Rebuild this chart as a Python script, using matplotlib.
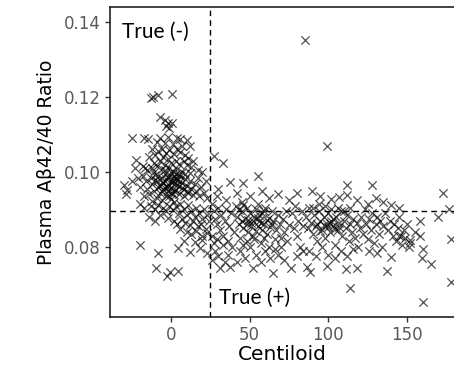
import matplotlib
matplotlib.use("Agg")
import matplotlib.pyplot as plt

# amyloid negative side (centiloid below cutoff)
neg_points = [
    (-13, 0.1197), (-11.5, 0.1199), (-8, 0.1204), (0.5, 0.1208), (-7, 0.1146), (-4, 0.1137),
    (-2, 0.1130), (0.5, 0.1130), (-3, 0.1122), (-1, 0.1118),
    (-25, 0.1090), (-17.5, 0.1090), (-14.5, 0.1088), (-7, 0.1090), (-2, 0.1092), (3.5, 0.1090),
    (6, 0.1088), (10, 0.1086), (-9, 0.1080), (-4, 0.1078), (1, 0.1075), (7, 0.1070), (12, 0.1068),
    (-22, 0.1032), (-23, 0.1010), (-16.6, 0.1010), (-12, 0.1060), (-10, 0.1045), (-8, 0.1055),
    (-6, 0.1062), (-3, 0.1050), (-1, 0.1058), (2, 0.1048), (4, 0.1060), (6, 0.1052), (9, 0.1045),
    (11, 0.1038), (14, 0.1030), (-14, 0.1040), (-11, 0.1025), (-7, 0.1030), (-5, 0.1040),
    (-2, 0.1035), (0, 0.1025), (3, 0.1030), (5, 0.1020), (8, 0.1028), (10, 0.1018), (13, 0.1012),
    (17, 0.1005), (20, 0.1000), (-18, 0.1015), (-15, 0.1005), (-12, 0.1010), (-9, 0.1015),
    (-6, 0.1008), (-4, 0.1018), (-1, 0.1010), (1, 0.1002), (4, 0.1008), (7, 0.1000), (12, 0.0998),
    (-30, 0.0965), (-28, 0.0952), (-28.7, 0.0942), (-21, 0.0983), (-25, 0.0975), (-20, 0.0960),
    (-18, 0.0990), (-16, 0.0975), (-15, 0.0955), (-13, 0.0985), (-12, 0.0968), (-11, 0.0950),
    (-10, 0.0992), (-9, 0.0975), (-8, 0.0960), (-7, 0.0945), (-6, 0.0985), (-5, 0.0970),
    (-5, 0.0955), (-4, 0.0995), (-3, 0.0980), (-3, 0.0962), (-2, 0.0948), (-1, 0.0990),
    (0, 0.0972), (0, 0.0958), (1, 0.0985), (1, 0.0940), (2, 0.0968), (3, 0.0995), (3, 0.0952),
    (4, 0.0978), (5, 0.0962), (5, 0.0942), (6, 0.0988), (7, 0.0970), (8, 0.0955), (8, 0.0935),
    (9, 0.0980), (10, 0.0962), (11, 0.0945), (12, 0.0975), (13, 0.0955), (14, 0.0938),
    (15, 0.0968), (16, 0.0950), (17, 0.0985), (18, 0.0935), (19, 0.0960), (21, 0.0945),
    (22, 0.0975), (23, 0.0930), (-14, 0.0940), (-17, 0.0935), (-9, 0.0930), (-6, 0.0925),
    (-3, 0.0935), (0, 0.0928), (2, 0.0920), (-12, 0.0922),
    (-8, 0.0990), (-6, 0.0972), (-4, 0.0958), (-2, 0.0985), (-1, 0.0965), (1, 0.0975),
    (2, 0.0990), (2, 0.0950), (4, 0.0965), (6, 0.0975), (-7, 0.0962), (-10, 0.0978),
    (-4, 0.1005), (0, 0.1000), (3, 0.0982), (-2, 0.0960), (5, 0.0995), (9, 0.0995),
    (-11, 0.1000), (-6, 0.0950), (0, 0.0945), (7, 0.0958), (10, 0.0948), (-1, 0.0935),
    (-20, 0.0915), (-17, 0.0905), (-13, 0.0910), (-10, 0.0900), (-8, 0.0912), (-5, 0.0905),
    (-3, 0.0895), (-1, 0.0910), (1, 0.0898), (3, 0.0908), (5, 0.0890), (6, 0.0915), (8, 0.0900),
    (10, 0.0885), (11, 0.0912), (13, 0.0895), (15, 0.0880), (16, 0.0905), (18, 0.0890),
    (20, 0.0875), (21, 0.0900), (23, 0.0885), (-7, 0.0885), (-2, 0.0878), (2, 0.0870),
    (4, 0.0862), (7, 0.0875), (9, 0.0865), (12, 0.0858), (14, 0.0868), (17, 0.0855), (19, 0.0862),
    (22, 0.0848), (24, 0.0870), (6, 0.0848), (10, 0.0840), (13, 0.0835), (16, 0.0842),
    (20, 0.0830), (23, 0.0838), (-10, 0.0870), (-14, 0.0880),
    (-20, 0.0805), (-8, 0.0783), (-9.7, 0.0743), (-2.7, 0.0723), (-0.6, 0.0734), (4.7, 0.0736),
    (4.7, 0.0797), (12, 0.0788), (18.5, 0.0797), (22.7, 0.0783), (8, 0.0815), (15, 0.0812),
    (20, 0.0818),
]

# amyloid positive side (centiloid above cutoff)
pos_points = [
    (27, 0.1041), (33, 0.1023), (37.6, 0.0974), (46, 0.0971), (55.6, 0.0989), (85, 0.1350),
    (99, 0.1069), (89.6, 0.0950), (112, 0.0966), (128, 0.0965), (112, 0.0939), (106.6, 0.0934),
    (130, 0.0930), (173, 0.0945), (176.6, 0.0900),
    (30, 0.0955), (42, 0.0945), (50, 0.0935), (58, 0.0948), (62, 0.0930), (68, 0.0940),
    (75, 0.0925), (80, 0.0945), (95, 0.0935), (102, 0.0928), (118, 0.0925), (125, 0.0915),
    (135, 0.0920), (140, 0.0912), (145, 0.0905), (29, 0.0935), (35, 0.0925), (45, 0.0920),
    (55, 0.0915),
    (26, 0.0915), (27, 0.0895), (28, 0.0875), (29, 0.0860), (30, 0.0905), (31, 0.0845),
    (32, 0.0885), (33, 0.0830), (34, 0.0870), (35, 0.0900), (36, 0.0815), (37, 0.0855),
    (38, 0.0890), (39, 0.0800), (40, 0.0840), (26, 0.0830), (27, 0.0810), (28, 0.0790),
    (30, 0.0775), (31, 0.0743), (34, 0.0760), (37.6, 0.0748), (26, 0.0765), (29, 0.0820),
    (33, 0.0805), (36, 0.0780),
    (41, 0.0910), (42, 0.0880), (43, 0.0860), (44, 0.0825), (45, 0.0895), (46, 0.0850),
    (47, 0.0875), (48, 0.0905), (48, 0.0815), (49, 0.0840), (50, 0.0890), (51, 0.0865),
    (52, 0.0745), (52, 0.0830), (53, 0.0880), (54, 0.0900), (55, 0.0855), (56, 0.0870),
    (57, 0.0810), (58, 0.0890), (58, 0.0845), (59, 0.0862), (60, 0.0905), (61, 0.0835),
    (62, 0.0878), (63, 0.0852), (64, 0.0895), (65, 0.0730), (65, 0.0868), (66, 0.0820),
    (67, 0.0845), (68, 0.0885), (69, 0.0860), (70, 0.0800), (71, 0.0875), (72, 0.0840),
    (73, 0.0895), (74, 0.0815), (75, 0.0858), (44, 0.0790), (47, 0.0770), (50, 0.0800),
    (54, 0.0780), (57, 0.0760), (60, 0.0790), (63, 0.0770), (68, 0.0780), (72, 0.0765),
    (76, 0.0743), (42, 0.0760), (46, 0.0805), (53, 0.0820), (59, 0.0825), (62, 0.0800),
    (66, 0.0795), (70, 0.0825),
    (49, 0.0872), (52, 0.0868), (55, 0.0878), (57, 0.0865), (61, 0.0872), (64, 0.0862),
    (45, 0.0868), (48, 0.0860), (51, 0.0855), (54, 0.0842), (56, 0.0885), (59, 0.0895),
    (43, 0.0898), (46, 0.0912),
    (77, 0.0890), (78, 0.0850), (79, 0.0910), (80, 0.0830), (81, 0.0870), (82, 0.0800),
    (83, 0.0895), (84, 0.0855), (86.4, 0.0747), (88.5, 0.0734), (80, 0.0775), (84, 0.0790),
    (86, 0.0880), (87, 0.0850), (88, 0.0905), (89, 0.0865), (90, 0.0835), (91, 0.0885),
    (92, 0.0855), (93, 0.0815), (94, 0.0895), (95, 0.0870), (96, 0.0845), (97, 0.0880),
    (98, 0.0825), (99, 0.0860), (99, 0.0749), (100, 0.0890), (101, 0.0840), (102, 0.0870),
    (103, 0.0855), (104, 0.0805), (105, 0.0880), (106, 0.0845), (107, 0.0865), (108, 0.0895),
    (109, 0.0830), (110, 0.0870), (111, 0.0850), (111.5, 0.0741), (112, 0.0885), (113, 0.0815),
    (114, 0.0860), (114, 0.0690), (115, 0.0840), (116, 0.0875), (117, 0.0825), (118, 0.0743),
    (118, 0.0865), (119, 0.0800), (120, 0.0850), (88, 0.0790), (92, 0.0775), (96, 0.0800),
    (100, 0.0780), (104, 0.0770), (108, 0.0790), (112, 0.0775), (116, 0.0795), (90, 0.0905),
    (94, 0.0915), (98, 0.0910), (102, 0.0900), (106, 0.0905), (110, 0.0895), (114, 0.0905),
    (93, 0.0862), (97, 0.0858), (101, 0.0865), (104, 0.0848), (107, 0.0852), (95, 0.0842),
    (100, 0.0852), (103, 0.0875),
    (121, 0.0880), (122, 0.0835), (123, 0.0900), (124, 0.0860), (125, 0.0820), (126, 0.0875),
    (127, 0.0845), (128, 0.0890), (129, 0.0810), (130, 0.0860), (131, 0.0880), (132, 0.0835),
    (133, 0.0870), (134, 0.0800), (135, 0.0855), (136, 0.0890), (137, 0.0735), (138, 0.0845),
    (139, 0.0870), (140, 0.0774), (141, 0.0830), (142, 0.0860), (143, 0.0815), (144, 0.0850),
    (145, 0.0880), (146, 0.0830), (147, 0.0805), (148, 0.0845), (149, 0.0823), (151, 0.0801),
    (152, 0.0819), (150, 0.0860), (126, 0.0790), (131, 0.0785), (145, 0.0828), (152, 0.0810),
    (158.6, 0.0828),
    (155, 0.0840), (158, 0.0870), (160, 0.0795), (159.7, 0.0770), (160, 0.0654), (165, 0.0755),
    (170, 0.0880), (177.7, 0.0707), (178, 0.0820),
]

centiloid_cutoff = 25
ratio_cutoff = 0.0895

x_ticks = [0, 50, 100, 150]
y_ticks = [0.08, 0.10, 0.12, 0.14]

pts = neg_points + pos_points
xs = [p[0] for p in pts]
ys = [p[1] for p in pts]

fig = plt.figure(figsize=(4.54, 3.65), dpi=100)
ax = fig.add_axes([0.2423, 0.1315, 0.7577, 0.8485])

ax.scatter(xs, ys, marker="x", s=36, c="black", alpha=0.68, linewidths=0.9, zorder=2)

ax.axvline(centiloid_cutoff, color="black", lw=1.0, ls=(0, (4, 3)), zorder=3)
ax.axhline(ratio_cutoff, color="black", lw=1.0, ls=(0, (4, 3)), zorder=3)

ax.set_xlim(-38.8, 179.9)
ax.set_ylim(0.06136, 0.14383)
ax.set_xticks(x_ticks)
ax.set_yticks(y_ticks)
ax.set_xticklabels([str(t) for t in x_ticks])
ax.set_yticklabels(["%.2f" % t for t in y_ticks])

for s in ["left", "bottom", "top"]:
    ax.spines[s].set_color("#222222")
    ax.spines[s].set_linewidth(1.2)
ax.spines["right"].set_visible(False)

ax.tick_params(axis="both", colors="#333333", length=3.5, width=1.0,
               labelsize=12, labelcolor="#595959", pad=3)

ax.set_xlabel("Centiloid", fontsize=14.5, labelpad=1)
ax.set_ylabel("Plasma A\u03b242/40 Ratio", fontsize=13.4, labelpad=6)

ax.text(-31, 0.1373, "True (-)", fontsize=15, family="Lato", va="center", ha="left")
ax.text(30.5, 0.0664, "True (+)", fontsize=15, family="Lato", va="center", ha="left")

fig.savefig("out.png", dpi=100)
